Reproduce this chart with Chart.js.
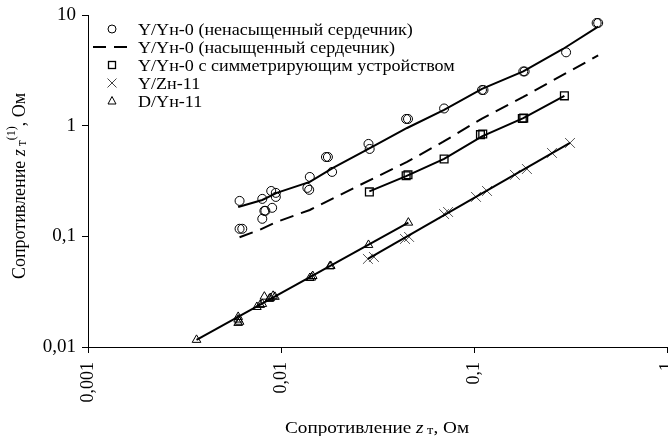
<!DOCTYPE html>
<html>
<head>
<meta charset="utf-8">
<script src="https://cdn.jsdelivr.net/npm/chart.js@4.4.1/dist/chart.umd.min.js"></script>
<style>
  html, body { margin: 0; padding: 0; background: #fff; }
</style>
</head>
<body>
<canvas id="chart" width="668" height="436"></canvas>
<script>
// Y/Yн-0 (unsaturated core) - measured points
const circX = [0.0061, 0.0061, 0.0063, 0.0080, 0.0082, 0.0083, 0.0080, 0.0090, 0.0089, 0.0094, 0.0094,
               0.0137, 0.0140, 0.0141, 0.0171, 0.0175, 0.0184, 0.0284, 0.0288, 0.0445, 0.0455,
               0.070, 0.110, 0.112, 0.180, 0.183, 0.300, 0.432, 0.440];
const circY = [0.209, 0.117, 0.117, 0.218, 0.170, 0.170, 0.144, 0.181, 0.257, 0.247, 0.227,
               0.274, 0.263, 0.344, 0.521, 0.521, 0.382, 0.684, 0.616, 1.15, 1.15,
               1.43, 2.10, 2.10, 3.09, 3.09, 4.60, 8.47, 8.47];
// fitted curve through the circles
const circFitX = [0.0060, 0.0080, 0.0095, 0.0141, 0.0186, 0.0284, 0.045, 0.070, 0.110, 0.180, 0.289, 0.44];
const circFitY = [0.184, 0.213, 0.247, 0.31, 0.415, 0.616, 0.953, 1.39, 2.15, 3.09, 4.93, 7.84];

// Y/Yн-0 (saturated core) - dashed curve
const satX = [0.0061, 0.0078, 0.0095, 0.0141, 0.0242, 0.045, 0.069, 0.110, 0.180, 0.44];
const satY = [0.098, 0.115, 0.135, 0.173, 0.277, 0.47, 0.713, 1.16, 1.82, 4.31];

// Y/Yн-0 with symmetrizing device
const sqX = [0.0287, 0.0445, 0.0455, 0.070, 0.108, 0.111, 0.178, 0.181, 0.294];
const sqY = [0.252, 0.353, 0.360, 0.50, 0.83, 0.84, 1.16, 1.17, 1.86];
const sqFitX = [0.0287, 0.0445, 0.070, 0.110, 0.180, 0.294];
const sqFitY = [0.255, 0.35, 0.50, 0.80, 1.17, 1.86];

// Y/Zн-11
const crX = [0.0282, 0.0303, 0.0439, 0.0461, 0.070, 0.0734, 0.1024, 0.1168, 0.163, 0.188, 0.2535, 0.3144];
const crY = [0.0625, 0.0651, 0.0947, 0.0987, 0.159, 0.166, 0.227, 0.257, 0.359, 0.406, 0.567, 0.698];
const crFitX = [0.0282, 0.3144];
const crFitY = [0.0625, 0.698];

// D/Yн-11
const triX = [0.00365, 0.0060, 0.0060, 0.0061, 0.0060, 0.0075, 0.0078, 0.0080, 0.0082, 0.0087, 0.0088,
              0.0093, 0.0091, 0.0141, 0.0144, 0.0146, 0.0179, 0.0181, 0.0284, 0.0457];
const triY = [0.0116, 0.0187, 0.0177, 0.0169, 0.0165, 0.0230, 0.0240, 0.0245, 0.0285, 0.0272, 0.0277,
              0.0284, 0.0290, 0.042, 0.0425, 0.0438, 0.0535, 0.054, 0.0836, 0.133];
const triFitX = [0.00365, 0.0457];
const triFitY = [0.0116, 0.133];

const legendLabels = [
  'Y/Yн-0 (ненасыщенный сердечник)',
  'Y/Yн-0 (насыщенный сердечник)',
  'Y/Yн-0 с симметрирующим устройством',
  'Y/Zн-11',
  'D/Yн-11'
];

const xTicks = [0.001, 0.01, 0.1, 1];
const yTicks = [0.01, 0.1, 1, 10];

const SERIF = '"Liberation Serif", "Times New Roman", serif';
const PLOT_RIGHT = 667;

const pts = (xs, ys) => xs.map((x, i) => ({ x: x, y: ys[i] }));
const fmt = v => String(v).replace('.', ',');

function lineSet(xs, ys, dash) {
  return {
    data: pts(xs, ys), showLine: true, pointRadius: 0, borderColor: '#000',
    borderWidth: 2, borderDash: dash || [], fill: false
  };
}
function markSet(xs, ys, style, r, color, bw) {
  return {
    data: pts(xs, ys), showLine: false, pointStyle: style, pointRadius: r,
    pointBorderColor: color, pointBackgroundColor: 'rgba(0,0,0,0)', pointBorderWidth: bw
  };
}

// draw a row of text parts (font / vertical offset each) centred on (0,0)
function drawParts(ctx, parts) {
  let total = 0;
  parts.forEach(p => { ctx.font = p.font; p.w = ctx.measureText(p.t).width; total += p.w; });
  let cx = -total / 2;
  parts.forEach(p => { ctx.font = p.font; ctx.fillText(p.t, cx, p.dy || 0); cx += p.w; });
}

const overlay = {
  id: 'overlay',
  // the rotated "1" label makes chart.js keep a margin on the right; the reference axis runs to the edge
  afterLayout(chart) {
    const a = chart.chartArea, xs = chart.scales.x;
    a.right = PLOT_RIGHT; a.width = a.right - a.left;
    xs.right = PLOT_RIGHT; xs.width = xs.right - xs.left;
    xs.configure();
  },
  afterDraw(chart) {
    const ctx = chart.ctx;
    ctx.save();
    ctx.fillStyle = '#000';
    ctx.strokeStyle = '#000';
    ctx.textBaseline = 'alphabetic';
    ctx.textAlign = 'left';

    // legend
    const mx = 112, tx = 138;
    legendLabels.forEach((label, i) => {
      const y = 29 + i * 18;
      ctx.save();
      ctx.lineWidth = 1;
      ctx.beginPath();
      if (i === 0) {
        ctx.arc(mx, y, 4, 0, Math.PI * 2);
        ctx.stroke();
      } else if (i === 1) {
        ctx.lineWidth = 2;
        ctx.setLineDash([13, 8]);
        ctx.moveTo(93, y); ctx.lineTo(128, y);
        ctx.stroke();
      } else if (i === 2) {
        ctx.lineWidth = 1.3;
        ctx.strokeRect(mx - 3.5, y - 3.5, 7, 7);
      } else if (i === 3) {
        ctx.strokeStyle = '#444';
        ctx.moveTo(mx - 4.5, y - 4.5); ctx.lineTo(mx + 4.5, y + 4.5);
        ctx.moveTo(mx + 4.5, y - 4.5); ctx.lineTo(mx - 4.5, y + 4.5);
        ctx.stroke();
      } else {
        ctx.moveTo(mx, y - 4.5); ctx.lineTo(mx + 4, y + 3); ctx.lineTo(mx - 4, y + 3); ctx.closePath();
        ctx.stroke();
      }
      ctx.restore();
      ctx.save();
      ctx.translate(tx, y + 5.5);
      ctx.scale(1.13, 1);
      ctx.font = '16px ' + SERIF;
      ctx.fillText(label, 0, 0);
      ctx.restore();
    });

    // x axis title
    const normal = '16px ' + SERIF, ital = 'italic 16px ' + SERIF, small = '12px ' + SERIF;
    ctx.save();
    ctx.translate(377, 433);
    ctx.scale(1.2, 1);
    drawParts(ctx, [
      { t: 'Сопротивление ', font: normal },
      { t: 'z', font: ital },
      { t: ' т', font: small, dy: 1 },
      { t: ', Ом', font: normal }
    ]);
    ctx.restore();

    // y axis title
    const yN = '18px ' + SERIF, yI = 'italic 18px ' + SERIF, yS = '13px ' + SERIF, yT = '12px ' + SERIF;
    ctx.save();
    ctx.translate(25, 186);
    ctx.rotate(-Math.PI / 2);
    ctx.scale(1, 1.05);
    drawParts(ctx, [
      { t: 'Сопротивление ', font: yN },
      { t: 'z', font: yI },
      { t: ' т', font: yS, dy: 1 },
      { t: '(1)', font: yT, dy: -10 },
      { t: ', Ом', font: yN }
    ]);
    ctx.restore();

    ctx.restore();
  }
};

new Chart(document.getElementById('chart'), {
  type: 'scatter',
  data: {
    datasets: [
      lineSet(circFitX, circFitY),
      lineSet(satX, satY, [14, 8]),
      lineSet(sqFitX, sqFitY),
      lineSet(crFitX, crFitY),
      lineSet(triFitX, triFitY),
      markSet(circX, circY, 'circle', 4.5, '#000', 1),
      markSet(sqX, sqY, 'rect', 5.5, '#000', 1.3),
      markSet(crX, crY, 'crossRot', 7, '#555', 1),
      markSet(triX, triY, 'triangle', 5, '#000', 1)
    ]
  },
  options: {
    responsive: false,
    animation: false,
    layout: { padding: { top: 15, right: 1, bottom: 0, left: 0 } },
    plugins: { legend: { display: false }, tooltip: { enabled: false } },
    events: [],
    scales: {
      x: {
        type: 'logarithmic', position: 'bottom', min: 0.001, max: 1,
        afterBuildTicks: s => { s.ticks = xTicks.map(v => ({ value: v })); },
        afterFit: s => { s.height = 89; s.paddingLeft = 0; s.paddingRight = 0; },
        ticks: {
          callback: fmt, minRotation: 90, maxRotation: 90, autoSkip: false,
          color: '#000', padding: 9, font: { family: SERIF, size: 18 }
        },
        grid: { drawOnChartArea: false, tickLength: 6, color: '#000' },
        border: { color: '#000', width: 1 }
      },
      y: {
        type: 'logarithmic', min: 0.01, max: 10,
        afterBuildTicks: s => { s.ticks = yTicks.map(v => ({ value: v })); },
        afterFit: s => { s.width = 88; s.paddingTop = 0; s.paddingBottom = 0; },
        ticks: {
          callback: fmt, autoSkip: false, color: '#000', padding: 6,
          font: { family: SERIF, size: 19 }
        },
        grid: { drawOnChartArea: false, tickLength: 6, color: '#000' },
        border: { color: '#000', width: 1 }
      }
    }
  },
  plugins: [overlay]
});
</script>
</body>
</html>
